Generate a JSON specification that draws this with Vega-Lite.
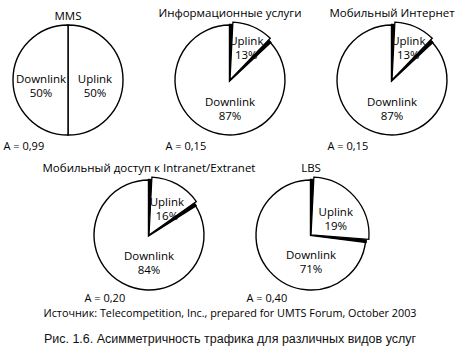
{
  "$schema": "https://vega.github.io/schema/vega-lite/v6.json",
  "padding": {"left": 3, "top": 7, "right": 0, "bottom": 4},
  "data": {"values": [
    {"service": "MMS", "direction": "Uplink", "share": 50, "pct": 50},
    {"service": "MMS", "direction": "Downlink", "share": 50, "pct": 50},
    {"service": "Информационные услуги", "direction": "Uplink", "share": 13, "pct": 13},
    {"service": "Информационные услуги", "direction": "Downlink", "share": 87, "pct": 87},
    {"service": "Мобильный Интернет", "direction": "Uplink", "share": 13, "pct": 13},
    {"service": "Мобильный Интернет", "direction": "Downlink", "share": 87, "pct": 87},
    {"service": "Мобильный доступ к Intranet/Extranet", "direction": "Uplink", "share": 16, "pct": 16},
    {"service": "Мобильный доступ к Intranet/Extranet", "direction": "Downlink", "share": 84, "pct": 84},
    {"service": "LBS", "direction": "Uplink", "share": 27, "pct": 19},
    {"service": "LBS", "direction": "Downlink", "share": 73, "pct": 71}
  ]},
  "title": {"text": "Рис. 1.6. Асимметричность трафика для различных видов услуг", "orient": "bottom", "anchor": "middle", "font": "Liberation Sans", "fontSize": 12.5, "fontWeight": "normal", "color": "#111", "offset": 14, "frame": "bounds"},
  "vconcat": [
    {
      "title": {"text": "Источник: Telecompetition, Inc., prepared for UMTS Forum, October 2003", "orient": "bottom", "anchor": "middle", "frame": "bounds", "fontSize": 10.8, "offset": 5},
      "center": true,
      "spacing": 11,
      "vconcat": [
        {
          "bounds": "flush",
          "spacing": 32,
          "hconcat": [
            {
              "title": {"text": "MMS", "anchor": "middle", "frame": "group", "offset": 0},
              "width": 130, "height": 112,
              "transform": [{"filter": "datum.service === 'MMS'"}, {"calculate": "datum.direction + '\\n' + datum.pct + '%'", "as": "label"}],
              "layer": [
                {"mark": {"type": "rule", "opacity": 0},
                 "encoding": {"x": {"datum": 0, "type": "quantitative", "scale": {"domain": [0, 1]}, "axis": {"title": "A = 0,99", "orient": "bottom", "labels": false, "ticks": false, "domain": false, "grid": false, "titleAnchor": "start", "titlePadding": 4}}}},
                {"mark": {"type": "arc", "radius": 55, "fill": "white", "stroke": "black", "strokeWidth": 1.4},
                 "encoding": {"theta": {"field": "share", "type": "quantitative", "stack": true, "scale": {"domain": [0, 100]}}, "order": {"field": "direction", "sort": "descending"}}},
                {"mark": {"type": "text", "lineBreak": "\n", "fontSize": 11.5, "lineHeight": 14, "color": "black", "radius": 27},
                 "encoding": {"theta": {"field": "share", "type": "quantitative", "stack": true, "scale": {"domain": [0, 100]}}, "order": {"field": "direction", "sort": "descending"}, "text": {"field": "label"}}}
              ]
            },
            {
              "title": {"text": "Информационные услуги", "anchor": "middle", "frame": "group", "offset": 0},
              "width": 130, "height": 112,
              "transform": [{"filter": "datum.service === 'Информационные услуги'"}, {"calculate": "datum.direction + '\\n' + datum.pct + '%'", "as": "label"}],
              "layer": [
                {"mark": {"type": "rule", "opacity": 0},
                 "encoding": {"x": {"datum": 0, "type": "quantitative", "scale": {"domain": [0, 1]}, "axis": {"title": "A = 0,15", "orient": "bottom", "labels": false, "ticks": false, "domain": false, "grid": false, "titleAnchor": "start", "titlePadding": 4}}}},
                {"mark": {"type": "arc", "radius": 55, "fill": "white", "stroke": "black", "strokeWidth": 1.4},
                 "encoding": {"theta": {"field": "share", "type": "quantitative", "stack": true, "scale": {"domain": [0, 100]}}, "order": {"field": "direction", "sort": "descending"}}},
                {"mark": {"type": "arc", "radius": 55, "fill": "black", "stroke": "black", "strokeWidth": 2.4},
                 "encoding": {"theta": {"field": "share", "type": "quantitative", "stack": true, "scale": {"domain": [0, 100]}}, "order": {"field": "direction", "sort": "descending"}, "opacity": {"condition": {"test": "datum.direction === 'Uplink'", "value": 1}, "value": 0}}},
                {"mark": {"type": "arc", "radius": 58, "padAngle": 0.1, "fill": "white", "stroke": "black", "strokeWidth": 1.3},
                 "encoding": {"theta": {"field": "share", "type": "quantitative", "stack": true, "scale": {"domain": [0, 100]}}, "order": {"field": "direction", "sort": "descending"}, "opacity": {"condition": {"test": "datum.direction === 'Uplink'", "value": 1}, "value": 0}}},
                {"transform": [{"filter": "datum.direction === 'Uplink'"}],
                 "mark": {"type": "text", "lineBreak": "\n", "fontSize": 11.5, "lineHeight": 14, "color": "black", "radius": 41},
                 "encoding": {"theta": {"field": "share", "type": "quantitative", "stack": true, "scale": {"domain": [0, 100]}}, "order": {"field": "direction", "sort": "descending"}, "text": {"field": "label"}}},
                {"transform": [{"filter": "datum.direction === 'Downlink'"}],
                 "mark": {"type": "text", "lineBreak": "\n", "fontSize": 11.5, "lineHeight": 14, "dy": 23, "color": "black"},
                 "encoding": {"text": {"field": "label"}}}
              ]
            },
            {
              "title": {"text": "Мобильный Интернет", "anchor": "middle", "frame": "group", "offset": 0},
              "width": 130, "height": 112,
              "transform": [{"filter": "datum.service === 'Мобильный Интернет'"}, {"calculate": "datum.direction + '\\n' + datum.pct + '%'", "as": "label"}],
              "layer": [
                {"mark": {"type": "rule", "opacity": 0},
                 "encoding": {"x": {"datum": 0, "type": "quantitative", "scale": {"domain": [0, 1]}, "axis": {"title": "A = 0,15", "orient": "bottom", "labels": false, "ticks": false, "domain": false, "grid": false, "titleAnchor": "start", "titlePadding": 4}}}},
                {"mark": {"type": "arc", "radius": 55, "fill": "white", "stroke": "black", "strokeWidth": 1.4},
                 "encoding": {"theta": {"field": "share", "type": "quantitative", "stack": true, "scale": {"domain": [0, 100]}}, "order": {"field": "direction", "sort": "descending"}}},
                {"mark": {"type": "arc", "radius": 55, "fill": "black", "stroke": "black", "strokeWidth": 2.4},
                 "encoding": {"theta": {"field": "share", "type": "quantitative", "stack": true, "scale": {"domain": [0, 100]}}, "order": {"field": "direction", "sort": "descending"}, "opacity": {"condition": {"test": "datum.direction === 'Uplink'", "value": 1}, "value": 0}}},
                {"mark": {"type": "arc", "radius": 58, "padAngle": 0.1, "fill": "white", "stroke": "black", "strokeWidth": 1.3},
                 "encoding": {"theta": {"field": "share", "type": "quantitative", "stack": true, "scale": {"domain": [0, 100]}}, "order": {"field": "direction", "sort": "descending"}, "opacity": {"condition": {"test": "datum.direction === 'Uplink'", "value": 1}, "value": 0}}},
                {"transform": [{"filter": "datum.direction === 'Uplink'"}],
                 "mark": {"type": "text", "lineBreak": "\n", "fontSize": 11.5, "lineHeight": 14, "color": "black", "radius": 41},
                 "encoding": {"theta": {"field": "share", "type": "quantitative", "stack": true, "scale": {"domain": [0, 100]}}, "order": {"field": "direction", "sort": "descending"}, "text": {"field": "label"}}},
                {"transform": [{"filter": "datum.direction === 'Downlink'"}],
                 "mark": {"type": "text", "lineBreak": "\n", "fontSize": 11.5, "lineHeight": 14, "dy": 23, "color": "black"},
                 "encoding": {"text": {"field": "label"}}}
              ]
            }
          ]
        },
        {
          "bounds": "flush",
          "spacing": 32,
          "hconcat": [
            {
              "title": {"text": "Мобильный доступ к Intranet/Extranet", "anchor": "middle", "frame": "group", "offset": 0},
              "width": 130, "height": 112,
              "transform": [{"filter": "datum.service === 'Мобильный доступ к Intranet/Extranet'"}, {"calculate": "datum.direction + '\\n' + datum.pct + '%'", "as": "label"}],
              "layer": [
                {"mark": {"type": "rule", "opacity": 0},
                 "encoding": {"x": {"datum": 0, "type": "quantitative", "scale": {"domain": [0, 1]}, "axis": {"title": "A = 0,20", "orient": "bottom", "labels": false, "ticks": false, "domain": false, "grid": false, "titleAnchor": "start", "titlePadding": 1}}}},
                {"mark": {"type": "arc", "radius": 55, "fill": "white", "stroke": "black", "strokeWidth": 1.4},
                 "encoding": {"theta": {"field": "share", "type": "quantitative", "stack": true, "scale": {"domain": [0, 100]}}, "order": {"field": "direction", "sort": "descending"}}},
                {"mark": {"type": "arc", "radius": 55, "fill": "black", "stroke": "black", "strokeWidth": 2.4},
                 "encoding": {"theta": {"field": "share", "type": "quantitative", "stack": true, "scale": {"domain": [0, 100]}}, "order": {"field": "direction", "sort": "descending"}, "opacity": {"condition": {"test": "datum.direction === 'Uplink'", "value": 1}, "value": 0}}},
                {"mark": {"type": "arc", "radius": 58, "padAngle": 0.1, "fill": "white", "stroke": "black", "strokeWidth": 1.3},
                 "encoding": {"theta": {"field": "share", "type": "quantitative", "stack": true, "scale": {"domain": [0, 100]}}, "order": {"field": "direction", "sort": "descending"}, "opacity": {"condition": {"test": "datum.direction === 'Uplink'", "value": 1}, "value": 0}}},
                {"transform": [{"filter": "datum.direction === 'Uplink'"}],
                 "mark": {"type": "text", "lineBreak": "\n", "fontSize": 11.5, "lineHeight": 14, "color": "black", "radius": 37},
                 "encoding": {"theta": {"field": "share", "type": "quantitative", "stack": true, "scale": {"domain": [0, 100]}}, "order": {"field": "direction", "sort": "descending"}, "text": {"field": "label"}}},
                {"transform": [{"filter": "datum.direction === 'Downlink'"}],
                 "mark": {"type": "text", "lineBreak": "\n", "fontSize": 11.5, "lineHeight": 14, "dy": 22, "color": "black"},
                 "encoding": {"text": {"field": "label"}}}
              ]
            },
            {
              "title": {"text": "LBS", "anchor": "middle", "frame": "group", "offset": 0},
              "width": 130, "height": 112,
              "transform": [{"filter": "datum.service === 'LBS'"}, {"calculate": "datum.direction + '\\n' + datum.pct + '%'", "as": "label"}],
              "layer": [
                {"mark": {"type": "rule", "opacity": 0},
                 "encoding": {"x": {"datum": 0, "type": "quantitative", "scale": {"domain": [0, 1]}, "axis": {"title": "A = 0,40", "orient": "bottom", "labels": false, "ticks": false, "domain": false, "grid": false, "titleAnchor": "start", "titlePadding": 1}}}},
                {"mark": {"type": "arc", "radius": 55, "fill": "white", "stroke": "black", "strokeWidth": 1.4},
                 "encoding": {"theta": {"field": "share", "type": "quantitative", "stack": true, "scale": {"domain": [0, 100]}}, "order": {"field": "direction", "sort": "descending"}}},
                {"mark": {"type": "arc", "radius": 55, "fill": "black", "stroke": "black", "strokeWidth": 2.4},
                 "encoding": {"theta": {"field": "share", "type": "quantitative", "stack": true, "scale": {"domain": [0, 100]}}, "order": {"field": "direction", "sort": "descending"}, "opacity": {"condition": {"test": "datum.direction === 'Uplink'", "value": 1}, "value": 0}}},
                {"mark": {"type": "arc", "radius": 58, "padAngle": 0.1, "fill": "white", "stroke": "black", "strokeWidth": 1.3},
                 "encoding": {"theta": {"field": "share", "type": "quantitative", "stack": true, "scale": {"domain": [0, 100]}}, "order": {"field": "direction", "sort": "descending"}, "opacity": {"condition": {"test": "datum.direction === 'Uplink'", "value": 1}, "value": 0}}},
                {"transform": [{"filter": "datum.direction === 'Uplink'"}],
                 "mark": {"type": "text", "lineBreak": "\n", "fontSize": 11.5, "lineHeight": 14, "color": "black", "radius": 33},
                 "encoding": {"theta": {"field": "share", "type": "quantitative", "stack": true, "scale": {"domain": [0, 100]}}, "order": {"field": "direction", "sort": "descending"}, "text": {"field": "label"}}},
                {"transform": [{"filter": "datum.direction === 'Downlink'"}],
                 "mark": {"type": "text", "lineBreak": "\n", "fontSize": 11.5, "lineHeight": 14, "dy": 21, "color": "black"},
                 "encoding": {"text": {"field": "label"}}}
              ]
            }
          ]
        }
      ]
    }
  ],
  "config": {
    "view": {"stroke": null},
    "font": "Open Sans",
    "title": {"fontWeight": "normal", "fontSize": 11.5, "color": "black", "font": "Open Sans"},
    "axis": {"titleFont": "Open Sans", "titleFontSize": 11, "titleFontWeight": "normal", "titleColor": "black"},
    "text": {"font": "Open Sans"}
  }
}
